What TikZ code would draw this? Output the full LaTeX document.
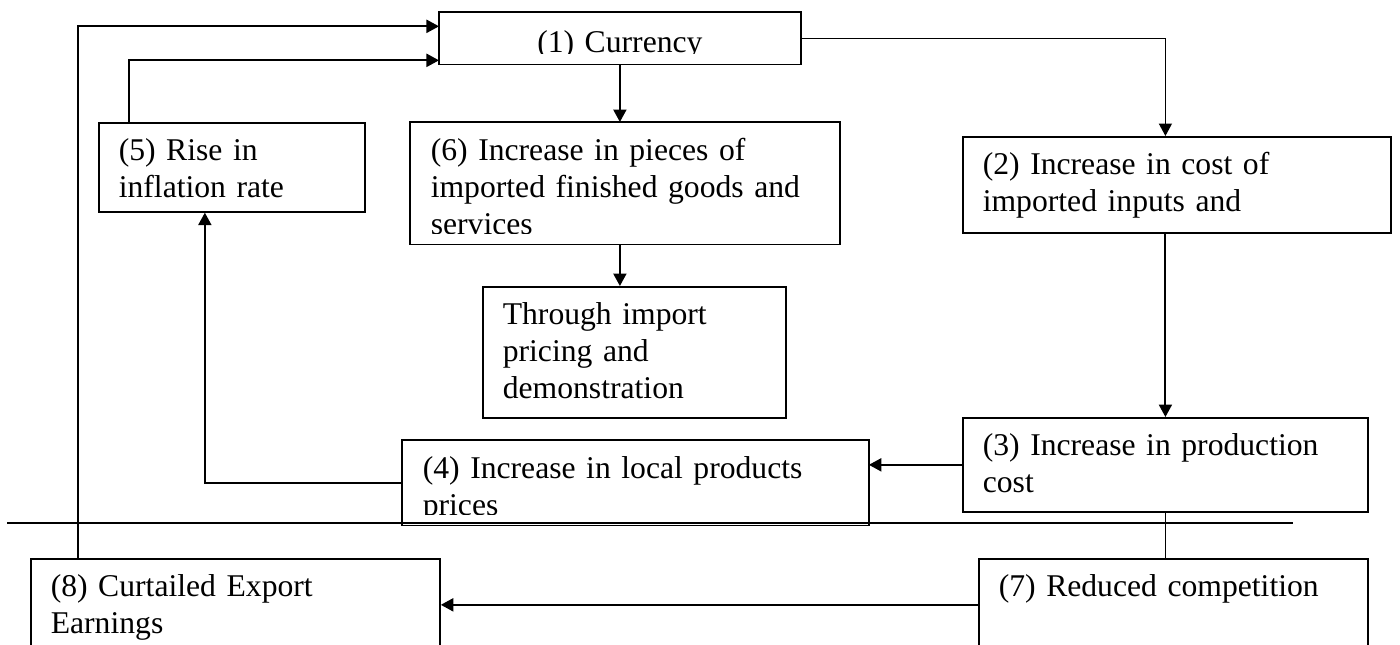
\documentclass[tikz,border=0pt]{standalone}
\usepackage{fontspec}
\setmainfont{Liberation Serif}
\usetikzlibrary{arrows.meta}

\tikzset{
  box/.style={draw, line width=0.45pt, anchor=north west, align=left,
    inner xsep=0.2cm, inner ysep=0pt, text height=0.38cm,
    font=\fontsize{9}{10.5}\selectfont},
  arr/.style={line width=0.6pt, -{Triangle[length=1.25mm,width=1.3mm]}},
  link/.style={line width=0.45pt},
  rule/.style={line width=0.7pt}
}

\begin{document}
\begin{tikzpicture}[x=0.01cm,y=-0.01cm]
\clip (0,0) rectangle (1400,644);

\begin{scope}
\clip (439,12) rectangle (799,53);
\node[box,draw=none,align=center,text width=3.2cm,text height=0.40cm,text depth=0.11cm] (cur) at (439,12) {(1) Currency};
\end{scope}
\draw[line width=0.45pt] (cur.north west) rectangle (cur.south east);

\node[box,text width=2.26cm,text depth=0.51cm] (rise) at (98,122) {(5) Rise in\\inflation rate};

\begin{scope}
\clip (410,122) rectangle (838,233);
\node[box,draw=none,text width=3.88cm,text depth=0.83cm] (pieces) at (410,122) {(6) Increase in pieces of\\imported finished goods and\\services};
\end{scope}
\draw[line width=0.45pt] (pieces.north west) rectangle (pieces.south east);

\node[box,text width=2.63cm,text depth=0.93cm] (demo) at (482,286) {Through import\\pricing and\\demonstration};
\node[box,text width=3.88cm,text depth=0.58cm] (inputs) at (962,136) {(2) Increase in cost of\\imported inputs and};
\node[box,text width=3.65cm,text depth=0.56cm] (prod) at (962,417) {(3) Increase in production\\cost};

\begin{scope}
\clip (402,440) rectangle (867,514);
\node[box,draw=none,text width=4.25cm,text depth=0.46cm] (local) at (402,440) {(4) Increase in local products\\prices};
\end{scope}
\draw[line width=0.45pt] (local.north west) rectangle (local.south east);

\node[box,text width=3.49cm,text depth=0.54cm] (comp) at (978,558) {(7) Reduced competition};
\node[box,text width=3.69cm,text depth=0.54cm] (export) at (30,558) {(8) Curtailed Export\\Earnings};

\draw[arr,line width=0.45pt] (cur.east) -| (prod.north |- inputs.north);
\draw[arr] (cur.south) -- (cur.south |- pieces.north);
\draw[arr] (cur.south |- pieces.south) -- (cur.south |- demo.north);
\draw[arr] (prod.north |- inputs.south) -- (prod.north);
\draw[arr] (prod.west) -- (prod.west -| local.east);
\draw[arr] (local.west) -| ([xshift=-0.27cm]rise.south);
\draw[arr] ([xshift=0.31cm]rise.north west) |- ([yshift=-0.22cm]cur.west);
\draw[arr] ([xshift=0.48cm]export.north west) |- ([yshift=0.12cm]cur.west);
\draw[link] (prod.south) -- (prod.south |- comp.north);
\draw[arr] (comp.west) -- (export.east);

\coordinate (ruleL) at (7,523);
\coordinate (ruleR) at (1293,523);
\draw[rule] (ruleL) -- (ruleR);
\end{tikzpicture}
\end{document}
